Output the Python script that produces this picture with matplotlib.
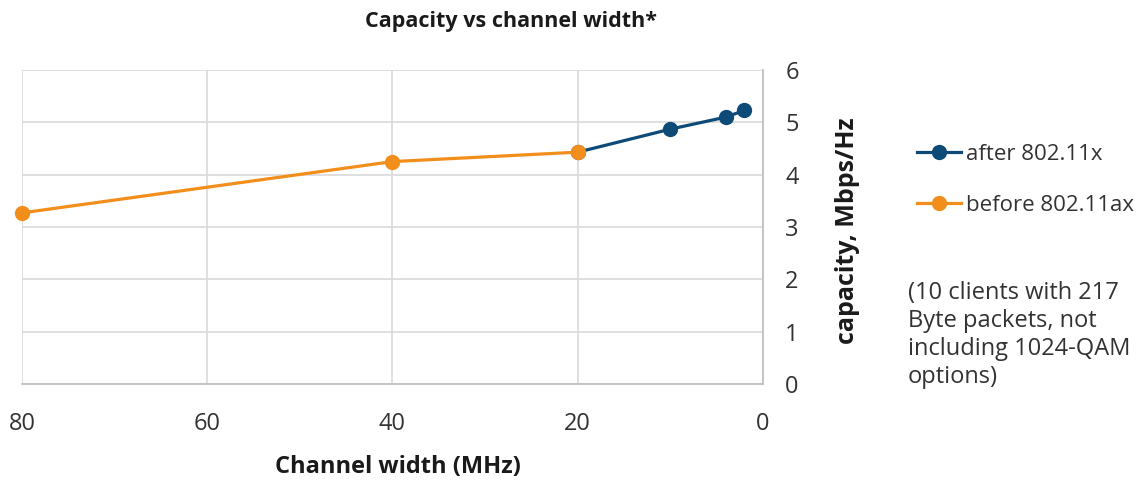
import matplotlib
matplotlib.use("Agg")
import matplotlib.pyplot as plt

plt.rcParams['font.family'] = ['Open Sans', 'DejaVu Sans']

# Data
after_width = [20, 10, 4, 2]
after_capacity = [4.43, 4.87, 5.10, 5.23]
before_width = [80, 40, 20]
before_capacity = [3.27, 4.25, 4.43]
x_ticks = [80, 60, 40, 20, 0]
y_ticks = [0, 1, 2, 3, 4, 5, 6]

BLUE = '#0d4a78'
ORANGE = '#f28e1c'
TEXT = '#333333'

fig = plt.figure(figsize=(11.39, 4.83), dpi=100)
ax = fig.add_axes([22/1139, 1-384/483, (763-22)/1139, (384-70)/483])

l1, = ax.plot(after_width, after_capacity, color=BLUE, lw=2.3, marker='o',
              markersize=10, zorder=3, label='after 802.11x', clip_on=False)
l2, = ax.plot(before_width, before_capacity, color=ORANGE, lw=2.3, marker='o',
              markersize=10, zorder=4, label='before 802.11ax', clip_on=False)

ax.set_xlim(80, 0)
ax.set_ylim(0, 6)
ax.set_xticks(x_ticks)
ax.set_yticks(y_ticks)
ax.grid(True, color='#d9d9d9', lw=1.2)
ax.set_axisbelow(True)
for s in ['top', 'left']:
    ax.spines[s].set_visible(False)
for s in ['bottom', 'right']:
    ax.spines[s].set_color('#c0c0c0')
    ax.spines[s].set_linewidth(1.3)

ax.yaxis.tick_right()
ax.yaxis.set_label_position('right')
ax.tick_params(axis='both', length=0, labelsize=17, colors=TEXT)
ax.tick_params(axis='y', pad=16)
ax.tick_params(axis='x', pad=20)
for lab in ax.get_xticklabels() + ax.get_yticklabels():
    lab.set_color(TEXT)

fig.text(511/1139, 1-22/483, 'Capacity vs channel width*', ha='center', va='center',
         fontsize=15.5, fontweight='bold', color='#1a1a1a')
fig.text(398/1139, 1-467/483, 'Channel width (MHz)', ha='center', va='center',
         fontsize=17, fontweight='bold', color='#1a1a1a')
fig.text(848/1139, 1-231/483, 'capacity, Mbps/Hz', ha='center', va='center',
         rotation=90, fontsize=18, fontweight='bold', color='#1a1a1a')

fig.legend(handles=[l1, l2], loc='upper left',
           bbox_to_anchor=(897/1139, 1-124/483), frameon=False,
           fontsize=16, handlelength=2.0, handletextpad=0.2,
           labelspacing=1.35, labelcolor=TEXT)

fig.text(908/1139, 1-281/483,
         '(10 clients with 217\nByte packets, not\nincluding 1024-QAM\noptions)',
         ha='left', va='top', fontsize=17, linespacing=1.23, color=TEXT)

fig.savefig('out.png', dpi=100, facecolor='white')
